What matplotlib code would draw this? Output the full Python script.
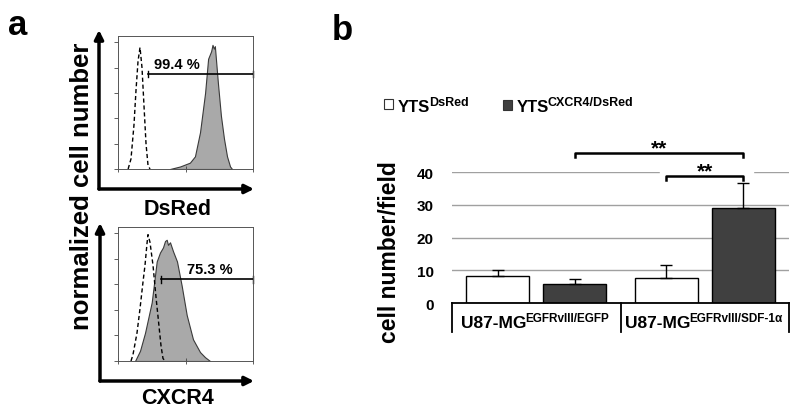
import numpy as np
import matplotlib
matplotlib.use("Agg")
from matplotlib import pyplot as plt
from matplotlib import transforms
from matplotlib.patches import FancyArrowPatch, Rectangle

plt.rcParams['font.family'] = ['Liberation Sans', 'DejaVu Sans']
plt.rcParams['font.weight'] = 'bold'

W, H = 800, 414

# panel a: flow histograms, x = log10 fluorescence, y = % of max
dsred_ctrl_x = [0.30, 0.385, 0.474, 0.533, 0.593, 0.652, 0.711, 0.770, 0.830, 0.889, 0.948]
dsred_ctrl_y = [0, 8, 35, 62, 85, 96, 80, 50, 20, 3, 0]
dsred_x = [1.54, 1.84, 2.13, 2.28, 2.43, 2.58, 2.67, 2.76, 2.80, 2.84, 2.87, 2.96, 3.05, 3.14, 3.23, 3.32, 3.38]
dsred_y = [0, 2, 5, 10, 29, 60, 87, 93, 98, 95, 97, 68, 42, 24, 10, 2, 0]
dsred_gate = [0.889, 4.0, 75]
dsred_pct = "99.4 %"

cxcr4_ctrl_x = [0.385, 0.444, 0.563, 0.652, 0.741, 0.800, 0.859, 0.889, 0.948, 1.037, 1.126, 1.185, 1.274, 1.333, 1.393]
cxcr4_ctrl_y = [0, 5, 22, 41, 62, 75, 92, 99, 93, 75, 50, 35, 12, 2, 0]
cxcr4_x = [0.504, 0.652, 0.800, 0.999, 1.147, 1.244, 1.333, 1.393, 1.443, 1.481, 1.541, 1.630, 1.748, 1.887, 2.036, 2.222, 2.430, 2.578, 2.726]
cxcr4_y = [0, 8, 22, 46, 78, 85, 89, 94, 95, 91, 93, 86, 78, 59, 36, 17, 7, 3, 0]
cxcr4_gate = [1.274, 4.0, 64]
cxcr4_pct = "75.3 %"

# panel b: migration assay
group_sup = ['EGFRvIII/EGFP', 'EGFRvIII/SDF-1α']
yts_mean = [8.4, 7.6]
yts_err = [1.8, 4.0]
cxcr4_mean = [5.8, 29.1]
cxcr4_err = [1.5, 7.6]
yticks = [0, 10, 20, 30, 40]

fig = plt.figure(figsize=(W / 100, H / 100), dpi=100)
# pixel coords, y down
PX = transforms.Affine2D().scale(1 / W, -1 / H).translate(0, 1) + fig.transFigure
renderer = fig.canvas.get_renderer()


def rect(x0, y0, x1, y1):
    return [x0 / W, 1 - y1 / H, (x1 - x0) / W, (y1 - y0) / H]


def sup_text(x, y, base, sup, size, supsize, rise=7, center=True):
    t1 = fig.text(0, 0, base, transform=PX, fontsize=size, fontweight='bold', va='baseline')
    t2 = fig.text(0, 0, sup, transform=PX, fontsize=supsize, fontweight='bold', va='baseline')
    w1 = t1.get_window_extent(renderer).width
    w2 = t2.get_window_extent(renderer).width
    x0 = x - (w1 + w2) / 2 if center else x
    t1.set_position((x0, y))
    t2.set_position((x0 + w1 - 1.5, y - rise))


def hist_panel(box, ctrl_x, ctrl_y, x, y, gate, pct, pct_pos):
    ax = fig.add_axes(rect(*box))
    ax.fill_between(10 ** np.array(x), y, color='#a9a9a9', edgecolor='#3a3a3a', lw=0.8)
    ax.plot(10 ** np.array(ctrl_x), ctrl_y, color='k', ls='--', lw=1, dashes=(3, 2))
    ax.plot([10 ** gate[0], 10 ** gate[1]], [gate[2], gate[2]], color='k', lw=1.2)
    for g in gate[:2]:
        ax.plot([10 ** g, 10 ** g], [gate[2] - 2.5, gate[2] + 2.5], color='k', lw=1, clip_on=False)
    ax.text(10 ** pct_pos[0], pct_pos[1], pct, ha='center', va='center', fontsize=10.5, fontweight='bold')
    ax.set_xscale('log')
    ax.set_xlim(1, 1e4)
    ax.set_ylim(0, 105)
    ax.set_yticks([0, 20, 40, 60, 80, 100])
    ax.set_yticklabels([])
    ax.xaxis.set_major_formatter(plt.NullFormatter())
    ax.xaxis.set_minor_formatter(plt.NullFormatter())
    ax.tick_params(axis='y', length=3, width=0.6, color='#444')
    ax.tick_params(axis='x', which='major', direction='inout', length=5, width=0.6, color='#444')
    ax.tick_params(axis='x', which='minor', direction='inout', length=3, width=0.5, color='#444')
    for s in ax.spines.values():
        s.set_linewidth(0.7)
        s.set_color('#555')
    return ax


hist_panel((118, 37, 253, 170), dsred_ctrl_x, dsred_ctrl_y, dsred_x, dsred_y,
           dsred_gate, dsred_pct, (1.75, 83))
hist_panel((118, 228, 253, 362), cxcr4_ctrl_x, cxcr4_ctrl_y, cxcr4_x, cxcr4_y,
           cxcr4_gate, cxcr4_pct, (2.73, 72))

# axis arrows
for (x0, y0, ytop, xr) in [(99, 190, 31, 254), (100, 382, 224, 254)]:
    for end in [(x0, ytop), (xr, y0)]:
        fig.add_artist(FancyArrowPatch((x0, y0), end, transform=PX, arrowstyle='-|>',
                                       mutation_scale=13, lw=2.5, color='k',
                                       shrinkA=0, shrinkB=0))

fig.text(178, 215, 'DsRed', transform=PX, ha='center', va='baseline', fontsize=15.5, fontweight='bold')
fig.text(178, 404, 'CXCR4', transform=PX, ha='center', va='baseline', fontsize=15.5, fontweight='bold')
fig.text(82, 186, 'normalized cell number', transform=PX, ha='center', va='center',
         rotation=90, fontsize=18.5, fontweight='bold')

fig.text(8, 35, 'a', transform=PX, va='baseline', fontsize=25, fontweight='bold')
fig.text(332, 40, 'b', transform=PX, va='baseline', fontsize=25, fontweight='bold')

# panel b
ax = fig.add_axes(rect(452, 173.3, 789, 304))
pos = np.arange(len(yts_mean))
off, bw = 0.228, 0.373
for yv in yticks[1:]:
    ax.axhline(yv, color='#a0a0a0', lw=1, zorder=0)
ax.bar(pos - off, yts_mean, bw, color='white', edgecolor='k', lw=1, zorder=2)
ax.bar(pos + off, cxcr4_mean, bw, color='#404040', edgecolor='k', lw=1, zorder=2)
ax.errorbar(pos - off, yts_mean, yerr=[np.zeros(2), yts_err], fmt='none', ecolor='k',
            elinewidth=1, capsize=4, capthick=1, zorder=3)
ax.errorbar(pos + off, cxcr4_mean, yerr=[np.zeros(2), cxcr4_err], fmt='none', ecolor='k',
            elinewidth=1, capsize=4, capthick=1, zorder=3)
ax.set_xlim(-0.5, 1.5)
ax.set_ylim(0, 40)
ax.set_yticks(yticks)
ax.set_yticklabels([str(v) for v in yticks], fontsize=11, fontweight='bold')
ax.tick_params(axis='y', length=0, pad=13)
ax.set_xticks([])
for s in ax.spines.values():
    s.set_visible(False)

# category box under the axis
ax.plot([-0.5, 1.5], [0, 0], color='k', lw=1.3, clip_on=False, zorder=4)
for xv in [-0.5, 0.5, 1.5]:
    ax.plot([xv, xv], [0, -8.9], color='k', lw=1.3, clip_on=False)

# significance brackets
ax.add_patch(Rectangle((0.736, 38.0), 0.551, 3.2, color='white', zorder=1, clip_on=False))
for (xa, xb, yb) in [(pos[0] + off, pos[1] + off, 46.0), (pos[1] - off, pos[1] + off, 38.8)]:
    ax.plot([xa, xa, xb, xb], [yb - 1.3, yb, yb, yb - 1.3], color='k', lw=1.8,
            clip_on=False, zorder=4)
    ax.text((xa + xb) / 2, yb - 0.2, '**', ha='center', va='baseline', fontsize=15,
            fontweight='bold', zorder=5, clip_on=False)

fig.text(390, 252, 'cell number/field', transform=PX, ha='center', va='center',
         rotation=90, fontsize=16.5, fontweight='bold')

# group labels
for i, sup in enumerate(group_sup):
    xc = 535.75 + 168.75 * i
    sup_text(xc, 328, 'U87-MG', sup, 12.5, 8.5, rise=6)

# legend
fig.add_artist(Rectangle((384, 100), 9, 10, transform=PX, facecolor='white', edgecolor='#333', lw=0.8))
fig.add_artist(Rectangle((503, 101), 9, 10, transform=PX, facecolor='#404040', edgecolor='#333', lw=0.8))
sup_text(398, 112, 'YTS', 'DsRed', 12, 9, rise=6, center=False)
sup_text(517, 112, 'YTS', 'CXCR4/DsRed', 12, 9, rise=6, center=False)

fig.savefig('out.png', dpi=100)
